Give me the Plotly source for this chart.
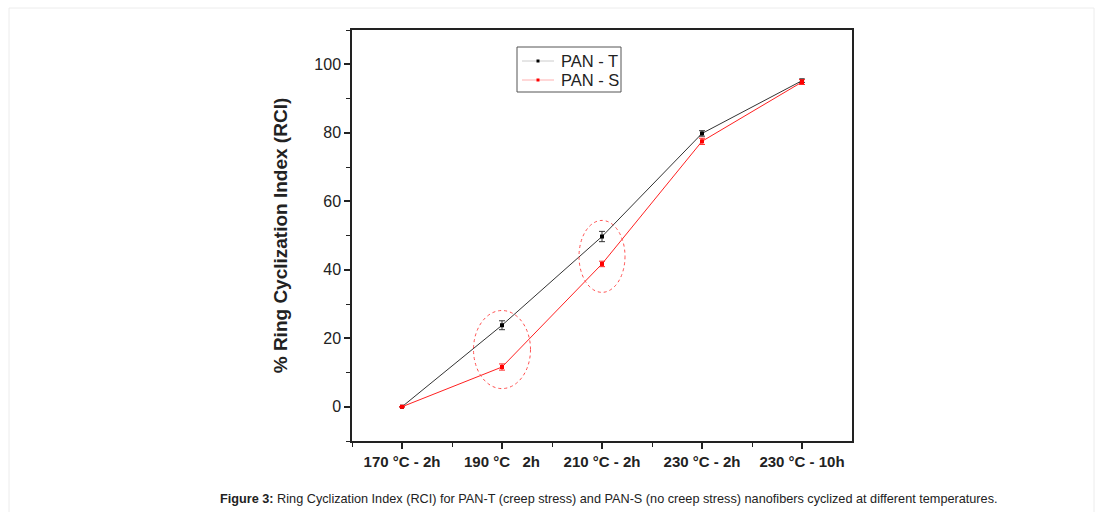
import plotly.graph_objects as go

categories = ["170 °C - 2h", "190 °C\u00a0\u00a0\u00a02h", "210 °C - 2h", "230 °C - 2h", "230 °C - 10h"]
pan_t = [0.0, 23.8, 49.7, 79.8, 95.2]
pan_t_err = [0.0, 1.3, 1.5, 0.8, 0.5]
pan_s = [0.0, 11.6, 41.7, 77.5, 94.8]
pan_s_err = [0.0, 0.9, 0.8, 0.9, 0.7]
y_ticks = [0, 20, 40, 60, 80, 100]
series_names = ["PAN - T", "PAN - S"]
series_colors = ["#333333", "#ff2020"]
marker_colors = ["black", "red"]
legend_line_colors = ["#cccccc", "#ffb0b0"]

xs = list(range(len(categories)))
FONT = "Arial, Liberation Sans, sans-serif"

# plot area in pixels (for paper-coordinate helpers)
L, R, T, B = 352, 852, 30, 441
def px(x):
    return (x - L) / (R - L)
def py(y):
    return (B - y) / (B - T)

fig = go.Figure()
for name, vals, errs, lc, mc in zip(series_names, [pan_t, pan_s], [pan_t_err, pan_s_err],
                                    series_colors, marker_colors):
    fig.add_trace(go.Scatter(
        x=xs, y=vals, name=name, mode="lines+markers",
        line=dict(color=lc, width=1),
        marker=dict(symbol="square", size=4, color=mc),
        error_y=dict(type="data", array=errs, color=lc, thickness=1, width=3),
        showlegend=False,
    ))

# dashed ellipses highlighting groups
fig.add_shape(type="circle", xref="x", yref="y", x0=0.715, x1=1.285, y0=5.3, y1=28.1,
              line=dict(color="#ff5050", width=1, dash="dot"))
fig.add_shape(type="circle", xref="x", yref="y", x0=1.77, x1=2.23, y0=33.4, y1=54.4,
              line=dict(color="#ff5050", width=1, dash="dot"))

# custom legend
fig.add_shape(type="rect", xref="paper", yref="paper", x0=px(517), x1=px(621), y0=py(92), y1=py(47),
              line=dict(color="#555555", width=1), fillcolor="white")
for i, (name, llc, mc) in enumerate(zip(series_names, legend_line_colors, marker_colors)):
    yy = 61 + 19 * i
    fig.add_shape(type="line", xref="paper", yref="paper", x0=px(522), x1=px(554), y0=py(yy), y1=py(yy),
                  line=dict(color=llc, width=1))
    fig.add_shape(type="rect", xref="paper", yref="paper", x0=px(536.5), x1=px(539.5),
                  y0=py(yy + 1.5), y1=py(yy - 1.5), line=dict(width=0), fillcolor=mc)
    fig.add_annotation(xref="paper", yref="paper", x=px(559), y=py(yy), xanchor="left", yanchor="middle",
                       showarrow=False, text=name, font=dict(family=FONT, size=16.5, color="#222222"))

# page frame
fig.add_shape(type="rect", xref="paper", yref="paper",
              x0=px(9), x1=px(1094), y0=py(520), y1=py(8),
              line=dict(color="#ececec", width=1), layer="below")

fig.add_annotation(
    xref="paper", yref="paper", x=px(609), y=py(499),
    xanchor="center", yanchor="middle", showarrow=False,
    text="<b>Figure 3:</b> Ring Cyclization Index (RCI) for PAN-T (creep stress) and PAN-S (no creep stress) nanofibers cyclized at different temperatures.",
    font=dict(family=FONT, size=12.7, color="#222222"),
)

fig.update_layout(
    width=1098, height=512,
    margin=dict(l=L, r=1098 - R, t=T, b=512 - B),
    paper_bgcolor="white", plot_bgcolor="white",
    font=dict(family=FONT, color="#222222"),
    showlegend=False,
    xaxis=dict(
        range=[-0.5, 4.5], tickmode="array", tickvals=xs,
        ticktext=["<b>" + c + "</b>" for c in categories],
        tickfont=dict(family=FONT, size=15, color="#222222"),
        showgrid=False, zeroline=False,
        showline=True, linecolor="#222222", linewidth=1.5, mirror=True,
        ticks="outside", ticklen=6, tickwidth=1.5, tickcolor="#222222",
        minor=dict(tickvals=[-0.5, 0.5, 1.5, 2.5, 3.5], ticks="outside", ticklen=4,
                   tickwidth=1, tickcolor="#222222"),
    ),
    yaxis=dict(
        range=[-10, 110], tickmode="array", tickvals=y_ticks,
        tickfont=dict(family=FONT, size=16, color="#222222"),
        title=dict(text="<b>% Ring Cyclization Index (RCI)</b>",
                   font=dict(family=FONT, size=19, color="#222222"), standoff=22),
        showgrid=False, zeroline=False,
        showline=True, linecolor="#222222", linewidth=1.5, mirror=True,
        ticks="outside", ticklen=6, tickwidth=1.5, tickcolor="#222222",
        minor=dict(tickvals=[-10, 10, 30, 50, 70, 90, 110], ticks="outside", ticklen=4,
                   tickwidth=1, tickcolor="#222222"),
    ),
)

fig.write_html("out.html")
